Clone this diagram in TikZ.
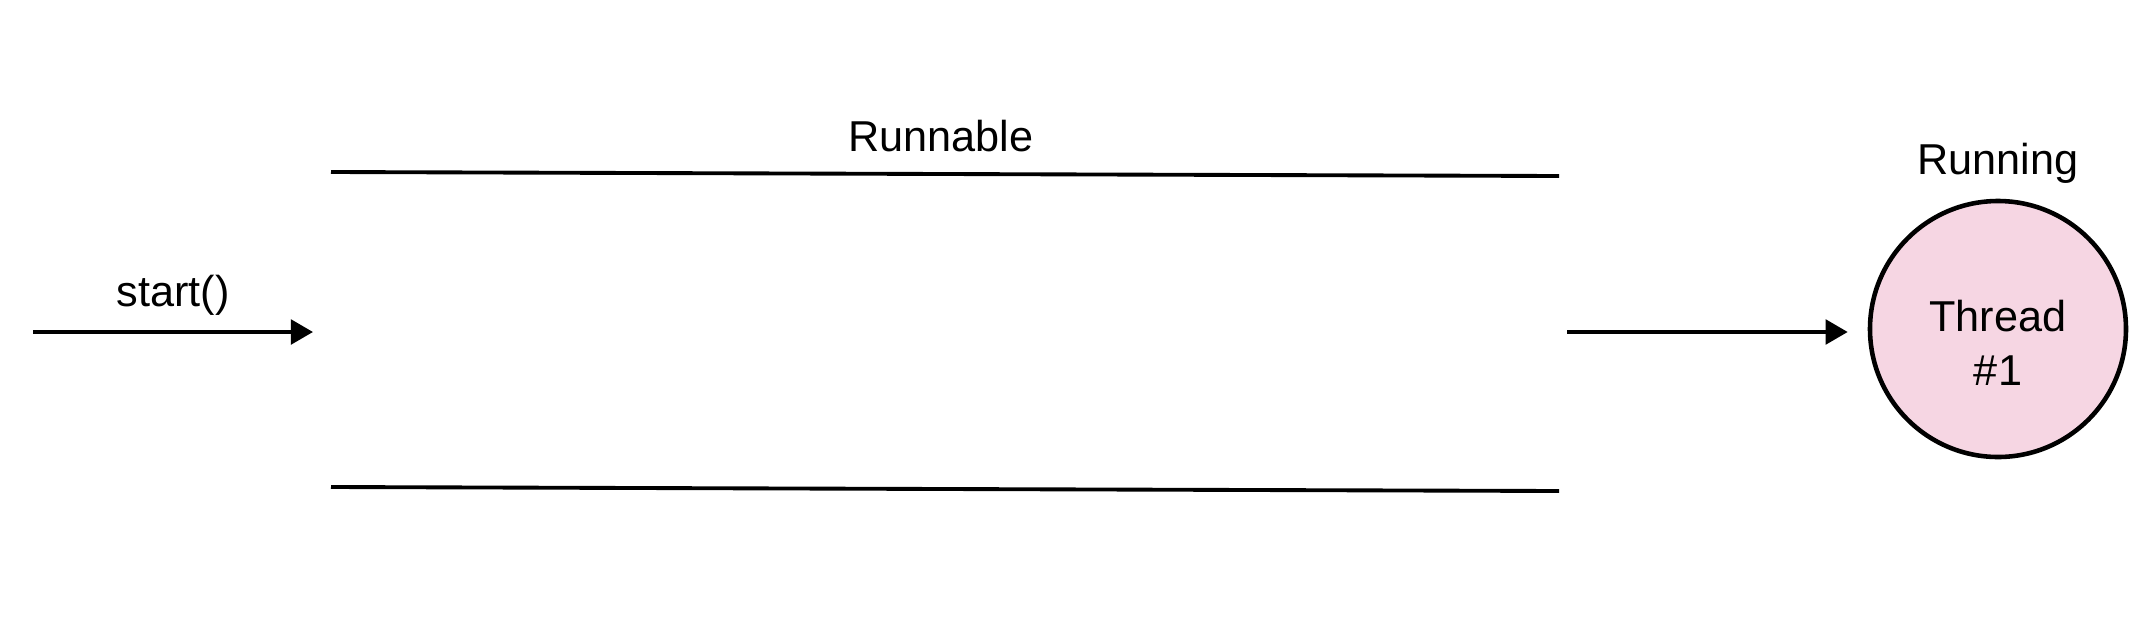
\documentclass[tikz,border=0pt]{standalone}
\usepackage{fontspec}
\setmainfont{Liberation Sans}
\usepackage{xcolor}
\usetikzlibrary{positioning,calc,arrows.meta}
\definecolor{threadpink}{RGB}{246,214,227}

\begin{document}
\begin{tikzpicture}[
    line/.style={line width=1.1pt},
    flow/.style={line width=1.1pt, -{Triangle[length=6.3pt, width=7pt]}},
    lbl/.style={font=\fontsize{12.3}{15.4}\selectfont, inner sep=0pt}
  ]
  \useasboundingbox (0, 0) rectangle (21.52, 6.34);

  % Entry (Left)
  \coordinate (entry) at (0.33, 3.02);
  \coordinate (qin) at (3.13, 3.02);
  \draw[flow] (entry) -- (qin);
  \node[lbl] (startlbl) at (1.73, 3.39) {start()};

  % Queue (Runnable)
  \coordinate (qtl) at (3.31, 4.62);
  \coordinate (qtr) at (15.59, 4.58);
  \coordinate (qbl) at (3.31, 1.47);
  \coordinate (qbr) at (15.59, 1.43);
  \draw[line] (qtl) -- (qtr);
  \draw[line] (qbl) -- (qbr);
  \node[lbl] (runnable) at (9.41, 4.98) {Runnable};

  % Thread (Right)
  \node[circle, draw, line width=1.3pt, fill=threadpink, minimum size=2.56cm]
    (thread) at (19.98, 3.05) {};
  \node[lbl, align=center] (threadlbl) at ($(thread)+(0, -0.14)$) {Thread\\\#1};
  \node[lbl] (running) at (19.98, 4.71) {Running};
  \coordinate (qout) at (15.67, 3.02);
  \draw[flow, shorten >=0.2cm] (qout) -- (thread.west |- qout);
\end{tikzpicture}
\end{document}
